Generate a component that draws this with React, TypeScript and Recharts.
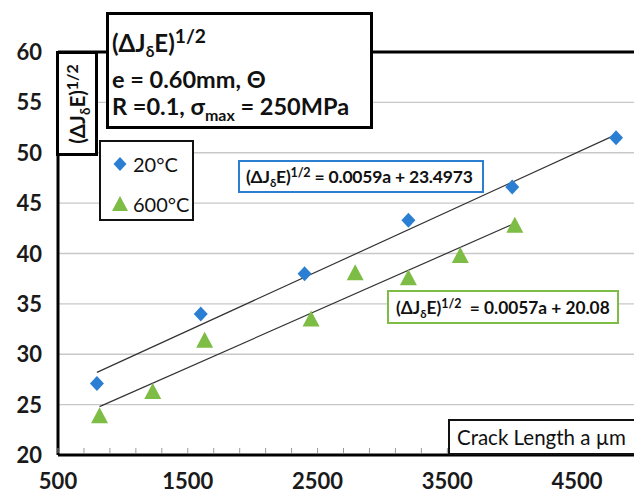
import React from "react";
import {
  ComposedChart,
  Scatter,
  Line,
  XAxis,
  YAxis,
  CartesianGrid,
  ReferenceLine,
} from "recharts";

// crack length a (µm) and (ΔJδE)^1/2
const crack20 = [800, 1600, 2400, 3200, 4000, 4800];
const root20 = [27.1, 34.0, 38.0, 43.3, 46.6, 51.5];
const crack600 = [820, 1230, 1630, 2450, 2790, 3200, 3600, 4020];
const root600 = [23.9, 26.3, 31.4, 33.5, 38.1, 37.6, 39.8, 42.8];

// trendline end points
const fit20A = [800, 4800];
const fit20V = [28.2, 51.8];
const fit600A = [820, 4020];
const fit600V = [24.8, 43.0];

const xLabels = [500, 1500, 2500, 3500, 4500];
const xMinor = [
  500, 700, 900, 1100, 1300, 1500, 1700, 1900, 2100, 2300, 2500, 2700, 2900,
  3100, 3300, 3500, 3700, 3900, 4100, 4300, 4500, 4700, 4900,
];
const yTicks = [20, 25, 30, 35, 40, 45, 50, 55, 60];

const BLUE = "#2b7fd3";
const GREEN = "#7dbd45";
const FONT = "Lato, 'Open Sans', sans-serif";

const zip = (a: number[], v: number[]) => a.map((x, i) => ({ a: x, v: v[i] }));
const pts20 = zip(crack20, root20);
const pts600 = zip(crack600, root600);
const fit20 = zip(fit20A, fit20V);
const fit600 = zip(fit600A, fit600V);

const Diamond = (p: any) => (
  <path
    d={`M${p.cx},${p.cy - 7.5}L${p.cx + 7},${p.cy}L${p.cx},${p.cy + 7.5}L${p.cx - 7},${p.cy}Z`}
    fill={BLUE}
  />
);
const Triangle = (p: any) => (
  <path
    d={`M${p.cx},${p.cy - 8.5}L${p.cx + 8.5},${p.cy + 7.5}L${p.cx - 8.5},${p.cy + 7.5}Z`}
    fill={GREEN}
  />
);

const XTick = ({ x, y, payload }: any) => (
  <g>
    <line x1={x} x2={x} y1={y - 2} y2={y - 7} stroke="#9a9a9a" strokeWidth={1} />
    {xLabels.includes(payload.value) && (
      <text x={x} y={y + 34} textAnchor="middle" fontFamily={FONT} fontWeight={700} fontSize={22} fill="#1a1a1a">
        {payload.value}
      </text>
    )}
  </g>
);

const YTick = ({ x, y, payload }: any) => (
  <text x={x - 16} y={y + 8} textAnchor="end" fontFamily={FONT} fontWeight={700} fontSize={22} fill="#1a1a1a">
    {payload.value}
  </text>
);

const Root = ({ sup = 0.72 }: { sup?: number }) => (
  <span>
    (ΔJ<span style={{ fontSize: "0.65em", position: "relative", top: "0.35em" }}>δ</span>E)
    <span style={{ fontSize: `${sup}em`, position: "relative", top: "-0.45em" }}>1/2</span>
  </span>
);

const box = (left: number, top: number, width: number, height: number, border: string) =>
  ({
    position: "absolute",
    left,
    top,
    width,
    height,
    boxSizing: "border-box",
    border,
    background: "#fff",
  }) as React.CSSProperties;

const line = (top: number, size: number): React.CSSProperties => ({
  position: "absolute",
  left: 3,
  top,
  fontWeight: 700,
  fontSize: size,
  lineHeight: "28px",
  whiteSpace: "nowrap",
});

const legendItems = [
  { name: "20°C", kind: "diamond" },
  { name: "600°C", kind: "triangle" },
];

export default function App() {
  return (
    <div
      style={{
        position: "absolute",
        left: 0,
        top: 0,
        width: 634,
        height: 493,
        overflow: "hidden",
        background: "#fff",
        fontFamily: FONT,
        color: "#111",
      }}
    >
      <ComposedChart width={660} height={493} margin={{ top: 52, right: 18, bottom: 0, left: 0 }}>
        <CartesianGrid vertical={false} stroke="#c8c8c8" strokeWidth={1.3} />
        <XAxis
          type="number"
          dataKey="a"
          domain={[500, 5000]}
          ticks={xMinor}
          interval={0}
          allowDataOverflow
          height={38}
          tickSize={0}
          tickMargin={0}
          tickLine={false}
          axisLine={{ stroke: "#000", strokeWidth: 3 }}
          tick={<XTick />}
        />
        <YAxis
          type="number"
          domain={[20, 60]}
          ticks={yTicks}
          interval={0}
          width={58}
          tickSize={0}
          tickMargin={0}
          tickLine={false}
          axisLine={{ stroke: "#000", strokeWidth: 3 }}
          tick={<YTick />}
        />
        <ReferenceLine y={60} stroke="#000" strokeWidth={3} />
        <Line data={fit20} dataKey="v" stroke="#333" strokeWidth={1.2} dot={false} isAnimationActive={false} />
        <Line data={fit600} dataKey="v" stroke="#333" strokeWidth={1.2} dot={false} isAnimationActive={false} />
        <Scatter data={pts20} dataKey="v" shape={Diamond} isAnimationActive={false} />
        <Scatter data={pts600} dataKey="v" shape={Triangle} isAnimationActive={false} />
      </ComposedChart>

      {/* y-axis title box */}
      <div style={box(56, 51, 42, 105, "3px solid #000")}>
        <div
          style={{
            position: "absolute",
            left: "50%",
            top: "50%",
            transform: "translate(-50%, -50%) rotate(-90deg)",
            whiteSpace: "nowrap",
            fontWeight: 700,
            fontSize: 20.5,
          }}
        >
          <Root sup={0.78} />
        </div>
      </div>

      {/* condition box */}
      <div style={box(106, 12, 267, 117, "3px solid #000")}>
        <div style={line(14, 24)}>
          <Root sup={0.8} />
        </div>
        <div style={line(50, 23.5)}>e = 0.60mm, Θ</div>
        <div style={line(77, 23.5)}>
          R =0.1, σ<span style={{ fontSize: "0.68em", position: "relative", top: "0.35em" }}>max</span> = 250MPa
        </div>
      </div>

      {/* legend */}
      <div style={box(99, 140, 95, 81, "2.5px solid #111")}>
        {legendItems.map((it, i) => (
          <div
            key={it.name}
            style={{ position: "absolute", left: 9, top: 9 + i * 40, height: 26, display: "flex", alignItems: "center", fontSize: 20, whiteSpace: "nowrap" }}
          >
            <svg width={20} height={20} style={{ marginRight: 3 }}>
              {it.kind === "diamond" ? (
                <path d="M10,3L16.5,10L10,17L3.5,10Z" fill={BLUE} />
              ) : (
                <path d="M10,2L18,17L2,17Z" fill={GREEN} />
              )}
            </svg>
            {it.name}
          </div>
        ))}
      </div>

      {/* blue fit equation */}
      <div style={box(238, 160, 246, 33, `2px solid ${BLUE}`)}>
        <div style={{ position: "absolute", left: 6, top: 3, fontWeight: 700, fontSize: 17.5, lineHeight: "24px", whiteSpace: "nowrap", letterSpacing: -0.2 }}>
          <Root /> = 0.0059a + 23.4973
        </div>
      </div>

      {/* green fit equation */}
      <div style={box(387, 290, 232, 34, `2px solid ${GREEN}`)}>
        <div style={{ position: "absolute", left: 7, top: 4, fontWeight: 700, fontSize: 17.3, lineHeight: "24px", whiteSpace: "nowrap" }}>
          <Root /> &nbsp;= 0.0057a + 20.08
        </div>
      </div>

      {/* x-axis title box */}
      <div style={box(448, 419, 200, 36, "2px solid #111")}>
        <div style={{ position: "absolute", left: 7, top: 3, fontSize: 20.5, lineHeight: "26px", whiteSpace: "nowrap" }}>
          Crack Length a µm
        </div>
      </div>
    </div>
  );
}
